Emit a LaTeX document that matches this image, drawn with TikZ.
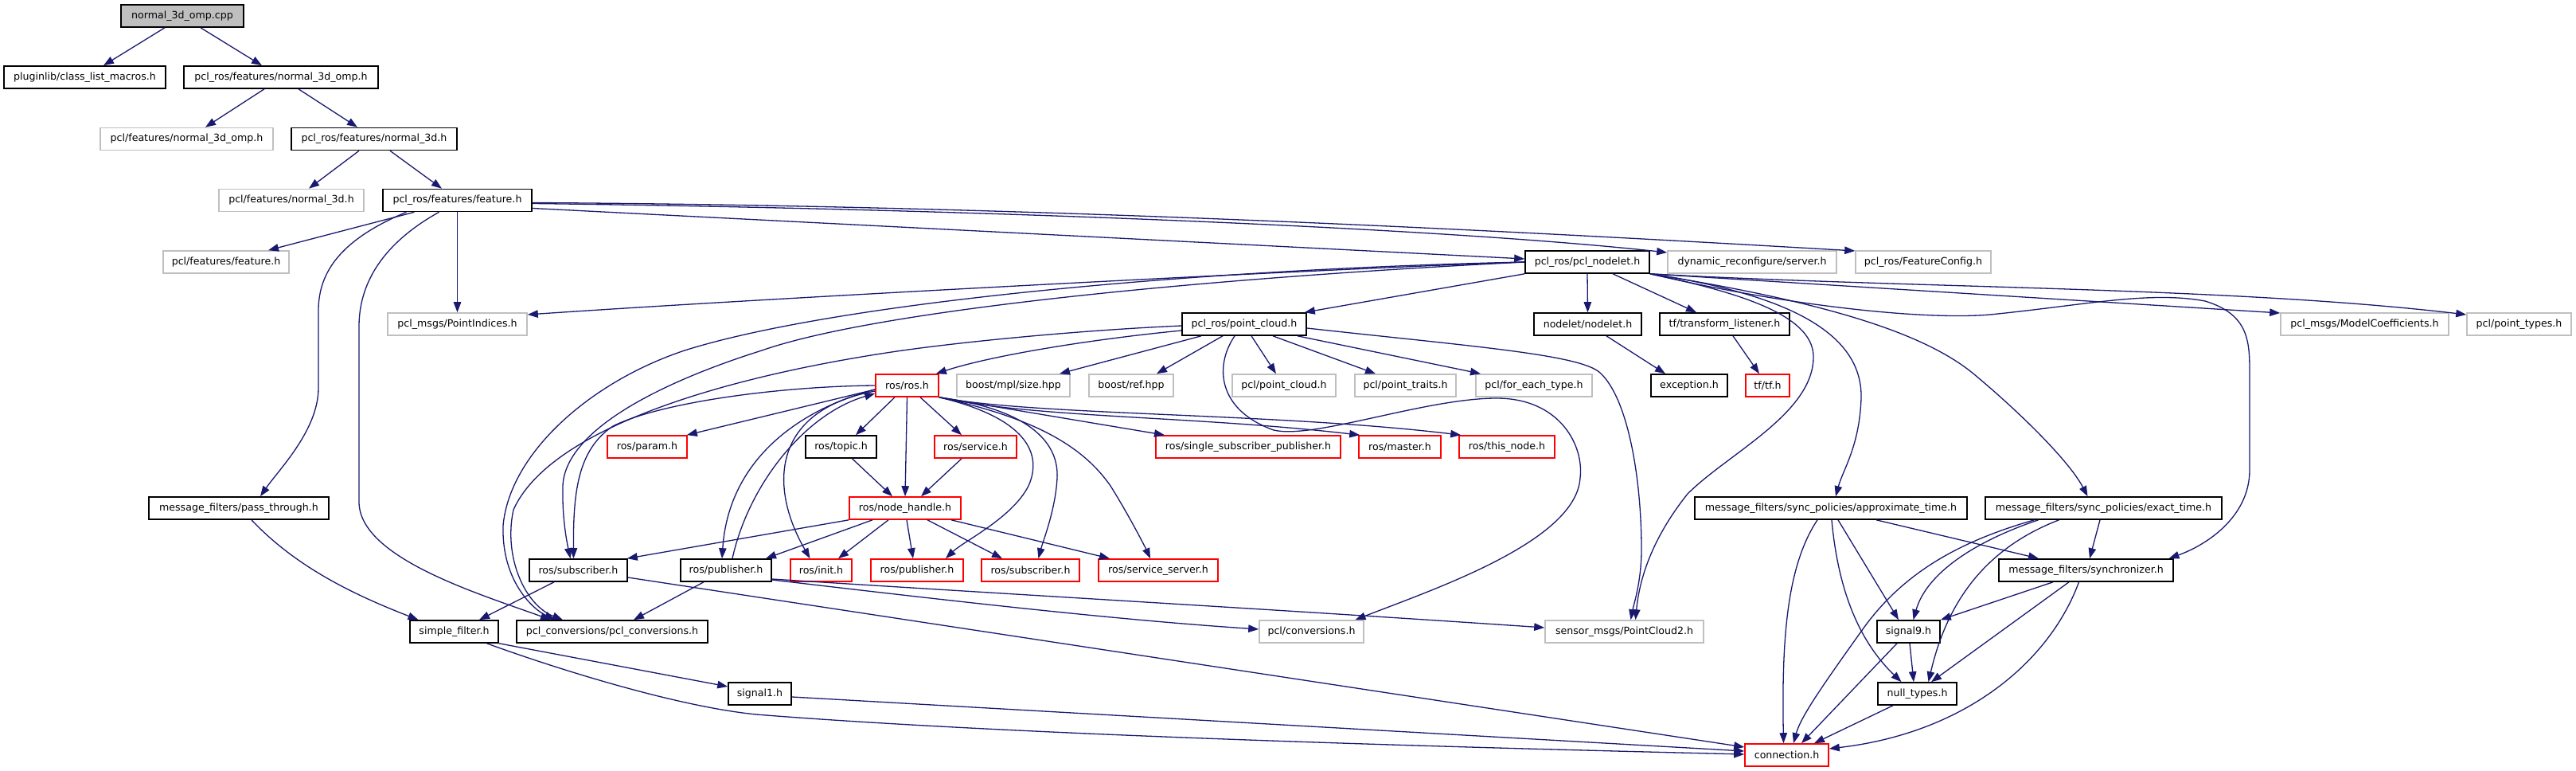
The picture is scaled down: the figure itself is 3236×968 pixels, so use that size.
\documentclass[tikz,border=0pt]{standalone}
\usepackage{fontspec}
\setmainfont{DejaVu Sans}
\usetikzlibrary{arrows.meta}
\definecolor{edgec}{HTML}{191970}
\definecolor{redb}{HTML}{FF0000}
\definecolor{grayb}{HTML}{BFBFBF}
\definecolor{rootf}{HTML}{BFBFBF}
\tikzset{
 nd/.style={rectangle, inner sep=0pt, minimum height=28pt, line width=1.6pt, font=\fontsize{12.6pt}{15pt}\selectfont, text=black},
 blk/.style={nd, draw=black},
 rd/.style={nd, draw=redb},
 gr/.style={nd, draw=grayb},
 rt/.style={nd, draw=black, fill=rootf},
 ed/.style={draw=edgec, line width=1.3pt, -{Triangle[length=13pt,width=9.5pt]}},
}
\begin{document}
\begin{tikzpicture}[x=1pt,y=-1pt]
\useasboundingbox (0,0) rectangle (3236,968);
\fill[white] (0,0) rectangle (3236,968);
% nodes
\node[rt, minimum width=154pt] (root) at (229,20) {normal\_3d\_omp.cpp};
\node[blk, minimum width=203pt] (plug) at (106.5,97) {pluginlib/class\_list\_macros.h};
\node[blk, minimum width=244pt] (n3domp) at (353,97) {pcl\_ros/features/normal\_3d\_omp.h};
\node[gr, minimum width=217pt] (pclomp) at (234.5,174.5) {pcl/features/normal\_3d\_omp.h};
\node[blk, minimum width=208pt] (n3d) at (470,174.5) {pcl\_ros/features/normal\_3d.h};
\node[gr, minimum width=182pt] (pcln3d) at (366,251.5) {pcl/features/normal\_3d.h};
\node[blk, minimum width=187pt] (feat) at (574.5,251.5) {pcl\_ros/features/feature.h};
\node[gr, minimum width=158pt] (pclfeat) at (284,329) {pcl/features/feature.h};
\node[blk, minimum width=156pt] (nodelet) at (1994,329) {pcl\_ros/pcl\_nodelet.h};
\node[gr, minimum width=212pt] (dyn) at (2201,329) {dynamic\_reconfigure/server.h};
\node[gr, minimum width=170pt] (fconf) at (2416,329) {pcl\_ros/FeatureConfig.h};
\node[gr, minimum width=175pt] (pidx) at (574.5,407) {pcl\_msgs/PointIndices.h};
\node[blk, minimum width=156pt] (pcloud) at (1563,407) {pcl\_ros/point\_cloud.h};
\node[blk, minimum width=135pt] (nodeleth) at (1994.5,407) {nodelet/nodelet.h};
\node[blk, minimum width=163pt] (tfl) at (2166.5,407) {tf/transform\_listener.h};
\node[gr, minimum width=211pt] (mcoef) at (2970.5,407) {pcl\_msgs/ModelCoefficients.h};
\node[gr, minimum width=131pt] (ptypes) at (3164.5,407) {pcl/point\_types.h};
\node[rd, minimum width=79pt] (rosh) at (1139.5,484) {ros/ros.h};
\node[gr, minimum width=142pt] (mpl) at (1273,484) {boost/mpl/size.hpp};
\node[gr, minimum width=106pt] (bref) at (1421,484) {boost/ref.hpp};
\node[gr, minimum width=130pt] (ppc) at (1613,484) {pcl/point\_cloud.h};
\node[gr, minimum width=127pt] (ptraits) at (1765.5,484) {pcl/point\_traits.h};
\node[gr, minimum width=146pt] (feach) at (1927,484) {pcl/for\_each\_type.h};
\node[blk, minimum width=96pt] (exc) at (2122,484) {exception.h};
\node[rd, minimum width=55pt] (tftf) at (2220.5,484) {tf/tf.h};
\node[rd, minimum width=100pt] (param) at (813,561) {ros/param.h};
\node[blk, minimum width=89pt] (topic) at (1056.5,561) {ros/topic.h};
\node[rd, minimum width=103pt] (service) at (1225.5,561) {ros/service.h};
\node[rd, minimum width=232pt] (ssp) at (1568,561) {ros/single\_subscriber\_publisher.h};
\node[rd, minimum width=103pt] (master) at (1758.5,561) {ros/master.h};
\node[rd, minimum width=120pt] (thisnode) at (1893,561) {ros/this\_node.h};
\node[blk, minimum width=226pt] (pass) at (300,638) {message\_filters/pass\_through.h};
\node[rd, minimum width=140pt] (nh) at (1137,638) {ros/node\_handle.h};
\node[blk, minimum width=342pt] (approx) at (2300,638) {message\_filters/sync\_policies/approximate\_time.h};
\node[blk, minimum width=297pt] (exact) at (2642.5,638) {message\_filters/sync\_policies/exact\_time.h};
\node[blk, minimum width=123pt] (rsub) at (726.5,716) {ros/subscriber.h};
\node[blk, minimum width=114pt] (rpub) at (912,716) {ros/publisher.h};
\node[rd, minimum width=77pt] (init) at (1031.5,716) {ros/init.h};
\node[rd, minimum width=116pt] (rpubr) at (1152,716) {ros/publisher.h};
\node[rd, minimum width=123pt] (rsubr) at (1294.5,716) {ros/subscriber.h};
\node[rd, minimum width=150pt] (ssrv) at (1455,716) {ros/service\_server.h};
\node[blk, minimum width=219pt] (sync) at (2620.5,716) {message\_filters/synchronizer.h};
\node[blk, minimum width=111pt] (sfilt) at (570.5,793) {simple\_filter.h};
\node[blk, minimum width=240pt] (pclconv) at (769,793) {pcl\_conversions/pcl\_conversions.h};
\node[gr, minimum width=131pt] (pconv) at (1647.5,793) {pcl/conversions.h};
\node[gr, minimum width=199pt] (pc2) at (2040.5,793) {sensor\_msgs/PointCloud2.h};
\node[blk, minimum width=79pt] (sig9) at (2397.5,793) {signal9.h};
\node[blk, minimum width=79pt] (sig1) at (954.5,871) {signal1.h};
\node[blk, minimum width=99pt] (nullt) at (2408.5,871) {null\_types.h};
\node[rd, minimum width=105pt] (conn) at (2244.5,948) {connection.h};
% edges: top chain
\draw[ed] ([xshift=-22pt]root.south) -- ([xshift=23.5pt]plug.north);
\draw[ed] ([xshift=23pt]root.south) -- ([xshift=-24pt]n3domp.north);
\draw[ed] ([xshift=-21pt]n3domp.south) -- ([xshift=23.5pt]pclomp.north);
\draw[ed] ([xshift=22pt]n3domp.south) -- ([xshift=-21pt]n3d.north);
\draw[ed] ([xshift=-19pt]n3d.south) -- ([xshift=22pt]pcln3d.north);
\draw[ed] ([xshift=20pt]n3d.south) -- ([xshift=-19.5pt]feat.north);
% feature.h
\draw[ed] ([xshift=-54pt]feat.south) -- ([xshift=53pt]pclfeat.north);
\draw[ed] ([xshift=-64pt]feat.south) .. controls (430,300) and (400,340) .. (400,390) -- (400,487) .. controls (400,540) and (350,590) .. ([xshift=27pt]pass.north);
\draw[ed] ([xshift=-23pt]feat.south) .. controls (500,295) and (451,340) .. (451,410) -- (451,630) .. controls (451,700) and (600,745) .. ([xshift=-77pt]pclconv.north);
\draw[ed] (feat.south) -- (pidx.north);
\draw[ed] ([yshift=-10pt]feat.east) -- ([yshift=4pt]nodelet.west);
\draw[ed] ([yshift=-4pt]feat.east) .. controls (1200,262) and (1800,285) .. ([yshift=12pt]dyn.west);
\draw[ed] ([yshift=-3pt]feat.east) .. controls (1300,258) and (1900,290) .. ([yshift=14pt]fconf.west);
% pcl_nodelet.h
\draw[ed] (nodelet.west) .. controls (1700,336) and (1000,372) .. ([yshift=12pt]pidx.east);
\draw[ed] (nodelet.south west) -- ([xshift=-3pt]pcloud.north east);
\draw[ed] (nodelet.south) -- (nodeleth.north);
\draw[ed] ([xshift=32pt]nodelet.south) -- ([xshift=-35.5pt]tfl.north);
\draw[ed] (nodelet.south east) -- ([yshift=14pt]mcoef.west);
\draw[ed] (nodelet.south east) .. controls (2400,362) and (2800,360) .. ([yshift=12pt]ptypes.west);
\draw[ed] (nodelet.south east) .. controls (2250,370) and (2340,420) .. (2338,500) .. controls (2336,560) and (2315,590) .. ([xshift=6pt]approx.north);
\draw[ed] (nodelet.south east) .. controls (2300,380) and (2420,420) .. (2480,470) .. controls (2540,520) and (2600,580) .. ([xshift=-20pt]exact.north);
\draw[ed] (nodelet.south east) .. controls (2250,385) and (2420,402) .. (2500,395) .. controls (2620,383) and (2700,365) .. (2770,378) .. controls (2826,395) and (2826,430) .. (2826,470) -- (2826,590) .. controls (2826,650) and (2770,685) .. ([xshift=104pt]sync.north);
\draw[ed] (nodelet.south east) .. controls (2200,370) and (2280,400) .. (2278,450) .. controls (2276,520) and (2170,570) .. (2120,620) .. controls (2080,670) and (2060,720) .. ([xshift=14pt]pc2.north);
\draw[ed] (nodelet.west) .. controls (1500,350) and (1100,390) .. (957,440) .. controls (830,480) and (710,540) .. (707,610) .. controls (706,650) and (712,680) .. ([xshift=-10pt]rsub.north);
\draw[ed] (nodelet.west) .. controls (1500,338) and (1050,380) .. (860,440) .. controls (740,480) and (640,570) .. (632,660) .. controls (630,730) and (670,765) .. ([xshift=-72pt]pclconv.north);
% pcl_ros/point_cloud.h
\draw[ed] ([yshift=-2pt]pcloud.west) .. controls (1350,415) and (1200,430) .. (1120,442) .. controls (900,475) and (690,540) .. (645,640) .. controls (632,700) and (660,760) .. ([xshift=-62pt]pclconv.north);
\draw[ed] ([yshift=-8pt]pcloud.west) .. controls (1380,425) and (1250,445) .. ([xshift=-4pt]rosh.north east);
\draw[ed] ([xshift=-54pt]pcloud.south) -- ([xshift=58pt]mpl.north);
\draw[ed] ([xshift=-27pt]pcloud.south) -- ([xshift=32pt]bref.north);
\draw[ed] ([xshift=9pt]pcloud.south) -- ([xshift=-10pt]ppc.north);
\draw[ed] ([xshift=36pt]pcloud.south) -- ([xshift=-37.5pt]ptraits.north);
\draw[ed] ([xshift=67pt]pcloud.south) -- ([xshift=-67pt]feach.north);
\draw[ed] ([xshift=-12pt]pcloud.south) .. controls (1525,460) and (1530,515) .. (1600,540) .. controls (1650,552) and (1790,500) .. (1880,500) .. controls (1960,500) and (1990,560) .. (1985,600) .. controls (1980,680) and (1800,740) .. ([xshift=55pt]pconv.north);
\draw[ed] ([yshift=-5pt]pcloud.east) .. controls (1850,435) and (1985,445) .. (2010,468) .. controls (2045,500) and (2062,600) .. (2062,690) .. controls (2062,730) and (2052,760) .. ([xshift=8pt]pc2.north);
\draw[ed] ([xshift=23.5pt]nodeleth.south) -- ([xshift=-30pt]exc.north);
\draw[ed] ([xshift=10.5pt]tfl.south) -- ([xshift=-10.5pt]tftf.north);
% ros/ros.h
\draw[ed] (rosh.west) .. controls (980,485) and (830,505) .. (770,535) .. controls (725,565) and (720,620) .. ([xshift=-6pt]rsub.north);
\draw[ed] ([yshift=-5pt]rosh.west) -- ([xshift=-1pt]param.north east);
\draw[ed] ([xshift=-15.5pt]rosh.south) -- ([xshift=18.5pt]topic.north);
\draw[ed] (rosh.south) -- (nh.north);
\draw[ed] ([xshift=16.5pt]rosh.south) -- ([xshift=-17.5pt]service.north);
\draw[ed] (rosh.south east) -- ([xshift=-105pt]ssp.north);
\draw[ed] (rosh.south east) .. controls (1300,525) and (1500,522) .. ([xshift=2pt]master.north west);
\draw[ed] (rosh.south east) .. controls (1300,522) and (1600,518) .. ([xshift=3pt]thisnode.north west);
\draw[ed] ([yshift=-5pt]rosh.west) .. controls (1000,515) and (915,580) .. ([xshift=-5pt]rpub.north);
\draw[ed] ([xshift=8pt]rpub.north) .. controls (940,610) and (1010,520) .. ([yshift=-10pt]rosh.west);
\draw[ed] ([yshift=-7pt]rosh.west) .. controls (970,515) and (965,610) .. ([xshift=-14pt]init.north);
\draw[ed] (rosh.south east) .. controls (1290,525) and (1310,570) .. (1292,610) .. controls (1272,650) and (1210,680) .. ([xshift=36pt]rpubr.north);
\draw[ed] (rosh.south east) .. controls (1300,515) and (1330,560) .. (1328,600) .. controls (1326,640) and (1310,680) .. ([xshift=10pt]rsubr.north);
\draw[ed] (rosh.south east) .. controls (1300,525) and (1360,560) .. (1395,610) .. controls (1420,650) and (1440,690) .. ([xshift=-10pt]ssrv.north);
\draw[ed] ([xshift=14pt]topic.south) -- ([xshift=-16pt]nh.north);
\draw[ed] ([xshift=-17.5pt]service.south) -- ([xshift=20pt]nh.north);
% ros/node_handle.h
\draw[ed] (nh.south west) -- ([xshift=-1pt]rsub.north east);
\draw[ed] ([xshift=-41pt]nh.south) -- ([xshift=50pt]rpub.north);
\draw[ed] ([xshift=-21pt]nh.south) -- ([xshift=21.5pt]init.north);
\draw[ed] ([xshift=2pt]nh.south) -- ([xshift=-5pt]rpubr.north);
\draw[ed] ([xshift=28pt]nh.south) -- ([xshift=-35.5pt]rsubr.north);
\draw[ed] ([xshift=58pt]nh.south) -- ([xshift=-61pt]ssrv.north);
% lower left
\draw[ed] ([xshift=-30.5pt]rsub.south) -- ([xshift=31.5pt]sfilt.north);
\draw[ed] ([yshift=-9pt]rsub.east) -- ([yshift=10pt]conn.west);
\draw[ed] ([xshift=16pt]pass.south) .. controls (370,710) and (440,745) .. ([xshift=-45pt]sfilt.north);
\draw[ed] (sfilt.south east) -- ([yshift=9pt]sig1.west);
\draw[ed] ([xshift=41pt]sfilt.south) .. controls (700,840) and (850,887) .. (950,897) .. controls (1300,925) and (1900,940) .. ([yshift=1pt]conn.west);
\draw[ed] ([yshift=-4pt]sig1.east) -- ([yshift=5pt]conn.west);
\draw[ed] ([xshift=-28pt]rpub.south) -- ([xshift=27pt]pclconv.north);
\draw[ed] ([yshift=-12pt]rpub.east) .. controls (1200,755) and (1400,778) .. ([yshift=3pt]pconv.west);
\draw[ed] ([yshift=-11pt]rpub.east) .. controls (1300,748) and (1600,765) .. ([yshift=5pt]pc2.west);
% message_filters right
\draw[ed] ([xshift=-17pt]approx.south) .. controls (2245,710) and (2238,800) .. ([xshift=-4pt]conn.north);
\draw[ed] ([xshift=1pt]approx.south) .. controls (2308,730) and (2330,800) .. ([xshift=-20pt]nullt.north);
\draw[ed] ([xshift=9pt]approx.south) -- ([xshift=-12.5pt]sig9.north);
\draw[ed] ([xshift=57pt]approx.south) -- ([xshift=-59.5pt]sync.north);
\draw[ed] ([xshift=-87pt]exact.south) .. controls (2460,680) and (2390,720) .. (2340,790) .. controls (2290,860) and (2262,900) .. ([xshift=8.5pt]conn.north);
\draw[ed] ([xshift=-82pt]exact.south) .. controls (2480,680) and (2420,720) .. ([xshift=6pt]sig9.north);
\draw[ed] ([xshift=-56pt]exact.south) .. controls (2490,690) and (2445,760) .. ([xshift=14pt]nullt.north);
\draw[ed] ([xshift=-4.5pt]exact.south) -- ([xshift=4.5pt]sync.north);
\draw[ed] ([xshift=-41.5pt]sync.south) -- (sig9.north east);
\draw[ed] ([xshift=-21.5pt]sync.south) -- ([xshift=17.5pt]nullt.north);
\draw[ed] ([xshift=-9pt]sync.south) .. controls (2575,830) and (2470,920) .. ([yshift=8pt]conn.east);
\draw[ed] ([xshift=1.5pt]sig9.south) -- ([xshift=-4.5pt]nullt.north);
\draw[ed] ([xshift=-14.5pt]sig9.south) -- ([xshift=18.5pt]conn.north);
\draw[ed] ([xshift=-30.5pt]nullt.south) -- ([xshift=34.5pt]conn.north);
\end{tikzpicture}
\end{document}
